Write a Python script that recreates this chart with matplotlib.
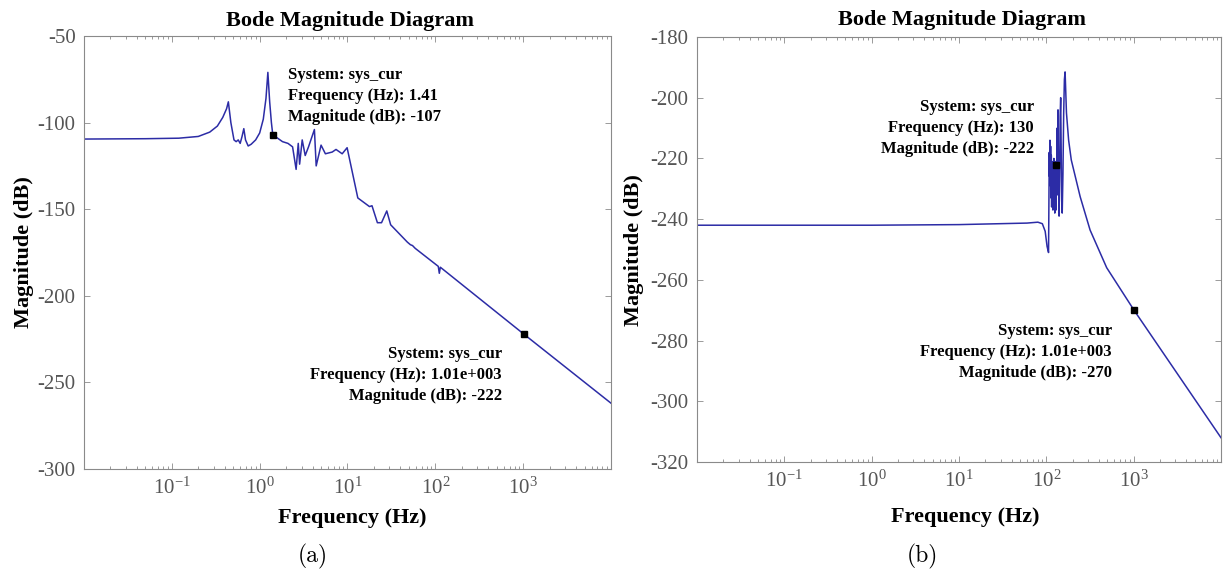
import numpy as np
import matplotlib
matplotlib.use("Agg")
from matplotlib import pyplot as plt
from matplotlib.ticker import LogLocator, NullFormatter, FixedLocator

plt.rcParams['font.family'] = ['Liberation Serif', 'DejaVu Serif']
plt.rcParams['mathtext.fontset'] = 'custom'
plt.rcParams['mathtext.rm'] = 'Liberation Serif'

# (a) magnitude response, frequency in Hz, magnitude in dB
freq_a = [0.01, 0.05, 0.12, 0.2, 0.27, 0.33, 0.38, 0.42, 0.44, 0.47, 0.51, 0.54,
          0.57, 0.6, 0.63, 0.66, 0.69, 0.74, 0.8, 0.9, 1.0, 1.1, 1.18, 1.24,
          1.3, 1.36, 1.41, 1.6, 1.82, 2.1, 2.37, 2.6, 2.75, 2.85, 3.05, 3.3,
          3.6, 4.2, 4.4, 5.0, 5.6, 6.7, 7.4, 8.7, 9.9, 13.1, 17.8, 19.0, 21.9,
          24.4, 28.0, 31.0, 48.0, 52.0, 55.0, 59.0, 108.0, 111.0, 114.0, 1010.0, 1e4]
mag_a = [-109.5, -109.3, -109.0, -108.0, -105.5, -102.0, -97.0, -92.0, -88.0, -100.0,
         -110.0, -111.0, -110.0, -112.0, -108.0, -103.5, -110.0, -113.5, -112.5,
         -110.0, -106.0, -98.0, -86.0, -71.0, -88.0, -100.0, -107.0, -109.0,
         -111.0, -112.0, -114.0, -127.0, -112.0, -124.0, -110.0, -119.0, -114.0,
         -104.0, -125.0, -113.0, -118.0, -117.0, -115.5, -118.0, -114.5, -143.5,
         -148.5, -148.0, -157.8, -157.8, -151.0, -159.0, -169.0, -170.5, -171.0,
         -172.6, -183.0, -187.0, -183.5, -222.0, -262.0]
tips_a_freq = [1.41, 1010.0]
tips_a_mag = [-107.0, -222.0]

# (b) magnitude response
freq_b = [0.01, 1.0, 10.0, 60.0, 80.0, 90.0, 97.0, 102.0, 106.0, 107.0, 108.0,
          109.0, 110.0, 111.0, 112.0, 113.0, 114.0, 115.0, 116.0, 117.0, 118.0,
          119.0, 120.0, 121.0, 122.0, 123.0, 124.0, 125.0, 126.0, 127.0, 128.0,
          129.0, 130.0, 131.0, 132.0, 133.0, 134.0, 136.0, 138.0, 140.0, 142.0,
          144.0, 146.0, 148.0, 150.0, 152.0, 155.0, 158.0, 161.0, 164.0, 166.0,
          170.0, 180.0, 193.0, 244.0, 317.0, 491.0, 1010.0, 1e4]
mag_b = [-242.0, -242.0, -241.8, -241.3, -241.0, -241.5, -244.0, -249.0, -251.0,
         -235.0, -218.0, -226.0, -214.0, -229.0, -216.0, -233.0, -219.0, -236.0,
         -221.0, -232.0, -224.0, -237.0, -222.0, -234.0, -220.0, -236.0, -223.0,
         -238.0, -221.0, -233.0, -224.0, -237.0, -222.0, -231.0, -226.0, -210.0,
         -232.0, -204.0, -228.0, -239.0, -226.0, -206.0, -200.0, -218.0, -234.0,
         -238.0, -225.0, -205.0, -194.0, -191.5, -196.0, -205.0, -214.0, -220.5,
         -232.6, -243.6, -256.0, -270.0, -312.0]
tips_b_freq = [130.0, 1010.0]
tips_b_mag = [-222.0, -270.0]

yticks_a = [-50, -100, -150, -200, -250, -300]
yticks_b = [-180, -200, -220, -240, -260, -280, -300, -320]
xticks = [1e-1, 1e0, 1e1, 1e2, 1e3]
xticklabels = [r'$\mathregular{10^{-1}}$', r'$\mathregular{10^{0}}$', r'$\mathregular{10^{1}}$',
               r'$\mathregular{10^{2}}$', r'$\mathregular{10^{3}}$']

W, H = 1228, 577
LINE = '#2c2ca6'
GRAY = '#8a8a8a'
TICKTXT = '#555555'

fig = plt.figure(figsize=(W / 100, H / 100), dpi=100)


def px(x, y):
    return x / W, 1 - y / H


def setup(ax, yticks):
    ax.set_xscale('log')
    ax.set_xlim(1e-2, 1e4)
    ax.set_ylim(yticks[-1], yticks[0])
    ax.set_yticks(yticks)
    ax.set_yticklabels([str(v) for v in yticks])
    ax.xaxis.set_major_locator(FixedLocator(xticks))
    ax.set_xticklabels(xticklabels)
    ax.xaxis.set_minor_locator(LogLocator(base=10, subs=np.arange(2, 10)))
    ax.xaxis.set_minor_formatter(NullFormatter())
    ax.tick_params(which='both', direction='in', top=True, right=True,
                   color=GRAY, width=0.6)
    ax.tick_params(which='major', length=4, labelsize=15, labelcolor=TICKTXT, pad=6)
    ax.tick_params(which='minor', length=2)
    for s in ax.spines.values():
        s.set_color(GRAY)
        s.set_linewidth(0.8)
        s.set_linestyle((0, (2, 1)))


ax1 = fig.add_axes([84 / W, 1 - 469 / H, 527 / W, 433 / H])
setup(ax1, yticks_a)
ax1.plot(freq_a, mag_a, color=LINE, lw=1.1)
ax1.plot(tips_a_freq, tips_a_mag, 's', color='black', ms=5)

ax2 = fig.add_axes([697 / W, 1 - 462 / H, 524 / W, 425 / H])
setup(ax2, yticks_b)
ax2.plot(freq_b, mag_b, color=LINE, lw=1.1)
ax2.plot(tips_b_freq, tips_b_mag, 's', color='black', ms=5)

bold = dict(fontweight='bold', fontsize=16)
tip = dict(fontweight='bold', fontsize=12, linespacing=1.4)

# titles and axis labels
fig.text(*px(350, 21), 'Bode Magnitude Diagram', ha='center', va='center', **bold)
fig.text(*px(962, 20), 'Bode Magnitude Diagram', ha='center', va='center', **bold)
fig.text(*px(24, 252), 'Magnitude (dB)', rotation=90, ha='center', va='center', **bold)
fig.text(*px(634, 250), 'Magnitude (dB)', rotation=90, ha='center', va='center', **bold)
fig.text(*px(352, 518), 'Frequency (Hz)', ha='center', va='center', **bold)
fig.text(*px(965, 517), 'Frequency (Hz)', ha='center', va='center', **bold)

# data tips
fig.text(*px(288, 96), 'System: sys_cur\nFrequency (Hz): %.3g\nMagnitude (dB): %d'
         % (tips_a_freq[0], tips_a_mag[0]), ha='left', va='center', **tip)
fig.text(*px(502, 375), 'System: sys_cur\nFrequency (Hz): 1.01e+003\nMagnitude (dB): %d'
         % tips_a_mag[1], ha='right', va='center', multialignment='right', **tip)
fig.text(*px(1034, 128), 'System: sys_cur\nFrequency (Hz): %d\nMagnitude (dB): %d'
         % (tips_b_freq[0], tips_b_mag[0]), ha='right', va='center',
         multialignment='right', **tip)
fig.text(*px(1112, 352), 'System: sys_cur\nFrequency (Hz): 1.01e+003\nMagnitude (dB): %d'
         % tips_b_mag[1], ha='right', va='center', multialignment='right', **tip)

# panel captions
fig.text(*px(313, 556), '(a)', family='cmr10', fontsize=17, ha='center', va='center')
fig.text(*px(922, 556), '(b)', family='cmr10', fontsize=17, ha='center', va='center')

fig.savefig('out.png', dpi=100)
